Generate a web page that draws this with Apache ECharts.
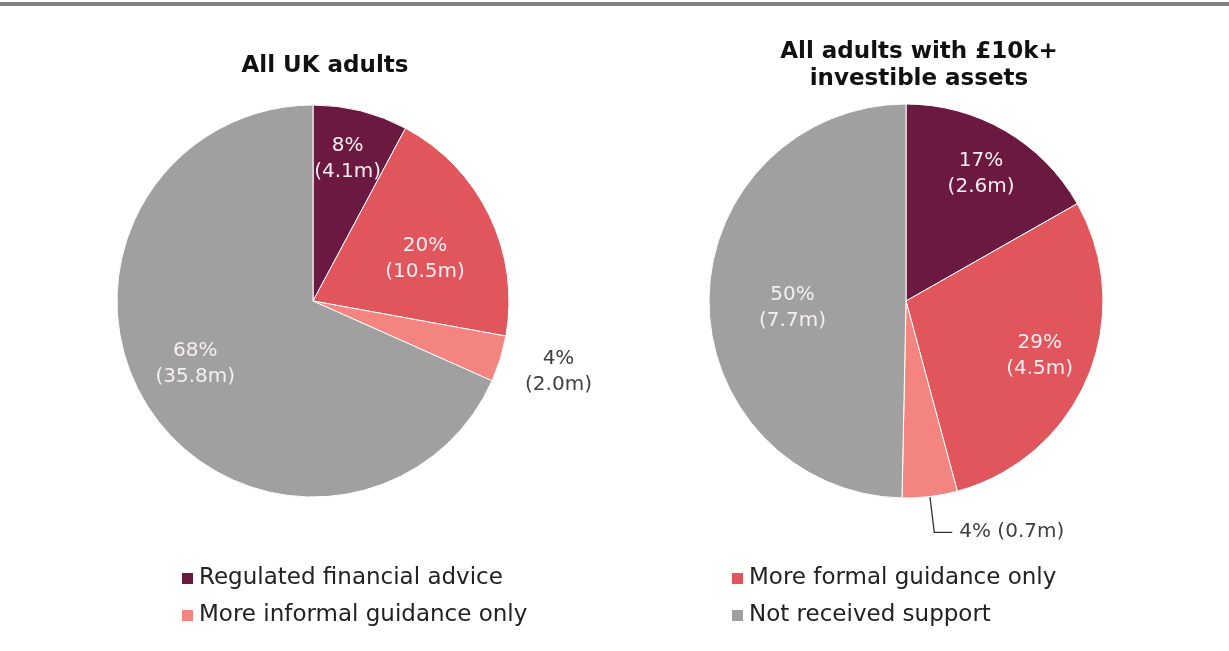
<!DOCTYPE html>
<html>
<head>
<meta charset="utf-8">
<title>Financial advice and guidance received</title>
<script src="https://cdn.jsdelivr.net/npm/echarts@6/dist/echarts.min.js"></script>
<style>
  html, body { margin: 0; padding: 0; background: #ffffff; }
  #chart { width: 1229px; height: 651px; }
</style>
</head>
<body>
<div id="chart"></div>
<script>
// Support categories, shared by both pies
const categories = [
  'Regulated financial advice',
  'More formal guidance only',
  'More informal guidance only',
  'Not received support'
];

// All UK adults: people (millions) and share (%)
const ukAdultsMillions = [4.1, 10.5, 2.0, 35.8];
const ukAdultsPct = [8, 20, 4, 68];

// Adults with £10k+ investible assets: people (millions) and share (%)
const investorsMillions = [2.6, 4.5, 0.7, 7.7];
const investorsPct = [17, 29, 4, 50];

const pieTitles = ['All UK adults', 'All adults with £10k+\ninvestible assets'];

const palette = ['#6c1942', '#e0565c', '#f4847f', '#a0a0a0'];
const FONT = '"DejaVu Sans", Verdana, sans-serif';

const insideLabel = { color: '#f6eef0', fontFamily: FONT, fontSize: 20, lineHeight: 26 };
const darkLabel = { color: '#404040', fontFamily: FONT, fontSize: 20, lineHeight: 26 };

// Per-slice label placement (nudges from the default inside position)
const ukLabelStyle = [
  { position: 'inside', offset: [10, -44], ...insideLabel },
  { position: 'inside', offset: [21, 2], ...insideLabel },
  { position: 'inside', offset: [149, 41], ...darkLabel },
  { position: 'inside', offset: [-33, 8], ...insideLabel }
];
const investorLabelStyle = [
  { position: 'inside', offset: [24, -39], ...insideLabel },
  { position: 'inside', offset: [40, 16], ...insideLabel },
  { position: 'outside', ...darkLabel, distanceToLabelLine: 7 },
  { position: 'inside', offset: [-12, 8], ...insideLabel }
];

function buildData(millions, pct, labelStyles, oneLine) {
  return categories.map((name, i) => {
    const sep = oneLine[i] ? ' ' : '\n';
    const item = {
      name: name,
      value: millions[i],
      label: Object.assign({
        show: true,
        formatter: pct[i] + '%' + sep + '(' + millions[i].toFixed(1) + 'm)'
      }, labelStyles[i])
    };
    if (labelStyles[i].position === 'outside') {
      item.labelLine = {
        show: true,
        length: 36,
        length2: 18,
        smooth: false,
        lineStyle: { color: '#333333', width: 1.3 }
      };
    } else {
      item.labelLine = { show: false };
    }
    return item;
  });
}

const chart = echarts.init(document.getElementById('chart'), null, { renderer: 'canvas' });

const legendBase = {
  orient: 'vertical',
  icon: 'rect',
  itemWidth: 13,
  itemHeight: 13,
  itemGap: 14,
  top: 562,
  selectedMode: false,
  textStyle: { fontFamily: FONT, fontSize: 23, color: '#222222', lineHeight: 23 }
};

const option = {
  animation: false,
  backgroundColor: '#ffffff',
  color: palette,
  title: [
    {
      text: pieTitles[0], left: 320, top: 48, textAlign: 'center',
      textStyle: { fontFamily: FONT, fontSize: 23, fontWeight: 'bold', color: '#111111', lineHeight: 27 }
    },
    {
      text: pieTitles[1], left: 914, top: 34, textAlign: 'center',
      textStyle: { fontFamily: FONT, fontSize: 23, fontWeight: 'bold', color: '#111111', lineHeight: 27 }
    }
  ],
  legend: [
    Object.assign({}, legendBase, { left: 175, data: [categories[0], categories[2]] }),
    Object.assign({}, legendBase, { left: 725, data: [categories[1], categories[3]] })
  ],
  graphic: [
    // Grey rule across the top of the figure
    { type: 'rect', left: 0, top: 2, shape: { width: 1229, height: 4 }, style: { fill: '#808080' }, silent: true }
  ],
  series: [
    {
      type: 'pie',
      name: pieTitles[0],
      center: [313, 301],
      radius: [0, 196],
      startAngle: 90,
      clockwise: true,
      avoidLabelOverlap: false,
      itemStyle: { borderColor: '#ffffff', borderWidth: 1 },
      emphasis: { disabled: true },
      data: buildData(ukAdultsMillions, ukAdultsPct, ukLabelStyle, [false, false, false, false])
    },
    {
      type: 'pie',
      name: 'All adults with £10k+ investible assets',
      center: [906, 301],
      radius: [0, 197],
      startAngle: 90,
      clockwise: true,
      avoidLabelOverlap: false,
      itemStyle: { borderColor: '#ffffff', borderWidth: 1 },
      emphasis: { disabled: true },
      data: buildData(investorsMillions, investorsPct, investorLabelStyle, [false, false, true, false])
    }
  ]
};

chart.setOption(option);
</script>
</body>
</html>
